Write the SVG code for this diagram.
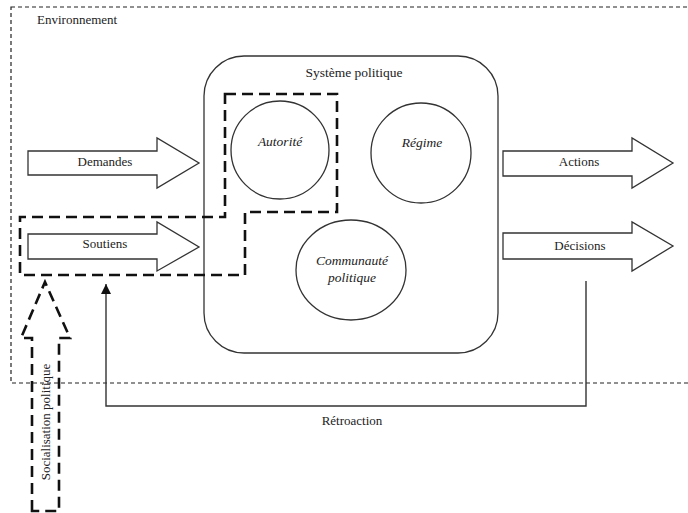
<svg xmlns="http://www.w3.org/2000/svg" width="688" height="513" viewBox="0 0 688 513" font-family="Liberation Serif, Times New Roman, serif">
<defs>
<style>
text{font-family:'Liberation Serif','Times New Roman',serif;font-size:13px;fill:#222}
.it{font-style:italic;font-size:13.5px}
.mid{text-anchor:middle}
.shape{fill:#fff;stroke:#333;stroke-width:1.3}
.env{fill:none;stroke:#222;stroke-width:1.2;stroke-dasharray:4 3}
.thick{fill:none;stroke:#111;stroke-width:2.6;stroke-dasharray:11 6}
.line{fill:none;stroke:#333;stroke-width:1.4}
</style>
<marker id="ah" viewBox="0 0 10 10" refX="10" refY="5" markerWidth="10" markerHeight="10" markerUnits="userSpaceOnUse" orient="auto">
<path d="M0,0 L10,5 L0,10 Z" fill="#111"/>
</marker>
</defs>
<rect width="688" height="513" fill="#fff"/>
<g id="environnement">
<rect class="env" x="11" y="7" width="700" height="376"/>
<text x="37" y="24">Environnement</text>
</g>
<g id="systeme-politique">
<rect class="shape" x="204" y="56" width="294" height="297" rx="40" ry="40"/>
<text class="mid" x="354" y="77" style="font-size:13.5px">Système politique</text>
</g>
<g id="autorite">
<circle class="shape" cx="280" cy="150" r="49"/>
<text class="it mid" x="280" y="146">Autorité</text>
</g>
<g id="regime">
<circle class="shape" cx="421" cy="153" r="50"/>
<text class="it mid" x="422" y="147">Régime</text>
</g>
<g id="communaute-politique">
<ellipse class="shape" cx="351" cy="270" rx="55" ry="50"/>
<text class="it mid" x="352" y="265">Communauté</text>
<text class="it mid" x="352" y="282">politique</text>
</g>
<g id="demandes">
<path class="shape" d="M28,151 H157 V138 L199,163 L157,188 V175 H28 Z"/>
<text class="mid" x="105" y="166">Demandes</text>
</g>
<g id="soutiens">
<path class="shape" d="M28,234 H157 V222 L199,247 L157,271 V259 H28 Z"/>
<text class="mid" x="105" y="248">Soutiens</text>
</g>
<g id="actions">
<path class="shape" d="M503,151 H632 V138 L673,163 L632,188 V176 H503 Z"/>
<text class="mid" x="579" y="166">Actions</text>
</g>
<g id="decisions">
<path class="shape" d="M503,233 H632 V222 L673,246 L632,271 V259 H503 Z"/>
<text class="mid" x="580" y="250">Décisions</text>
</g>
<g id="autorite-frontiere">
<path class="thick" d="M225,94 H337 V212 H245 V275 H20 V217 H225 Z"/>
</g>
<g id="socialisation-politique">
<path class="thick" d="M32,511 V338 H21 L45,282 L70,338 H59 V511 Z"/>
<text class="mid" transform="translate(50,422) rotate(-90)">Socialisation politique</text>
</g>
<g id="connecteurs">
<path class="line" d="M586,281 V406 H106 V284" marker-end="url(#ah)"/>
<text class="mid" x="352" y="425">Rétroaction</text>
</g>
</svg>
